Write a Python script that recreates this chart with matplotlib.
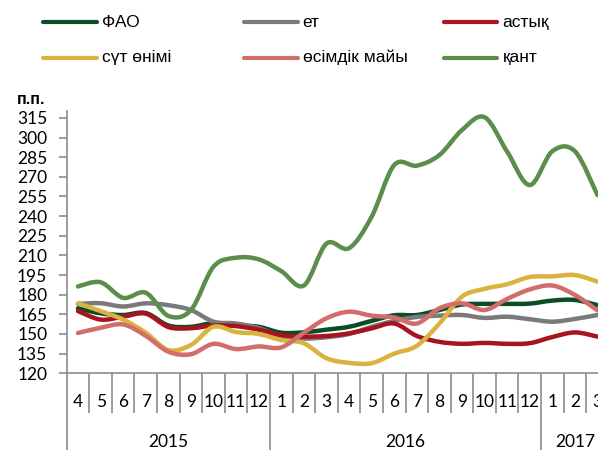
import matplotlib
matplotlib.use('Agg')
import matplotlib.pyplot as plt
import matplotlib.transforms as mtransforms
from matplotlib.path import Path
from matplotlib.patches import PathPatch
from matplotlib.lines import Line2D

# months Apr 2015 .. Mar 2017
months = [4, 5, 6, 7, 8, 9, 10, 11, 12,
          1, 2, 3, 4, 5, 6, 7, 8, 9, 10, 11, 12,
          1, 2, 3]
years = ['2015'] * 9 + ['2016'] * 12 + ['2017'] * 3

fao = [169.6, 165.8, 164.5, 166.0, 156.5, 155.5, 158.3, 156.5, 155.5,
       151.0, 151.3, 153.3, 155.5, 160.0, 164.3, 164.5, 168.3, 172.5, 173.0, 173.0, 173.2,
       175.5, 176.0, 172.0]
meat = [173.0, 173.5, 171.0, 173.4, 172.0, 168.3, 159.4, 158.0, 154.5,
        148.0, 146.5, 147.5, 150.0, 155.5, 160.0, 163.0, 164.0, 164.5, 162.3, 163.2, 161.3,
        159.4, 161.5, 164.5]
cereals = [167.5, 161.0, 163.2, 165.5, 155.3, 154.4, 156.5, 156.0, 153.3,
           149.2, 148.0, 148.5, 150.5, 154.3, 158.0, 148.5, 144.0, 142.5, 143.2, 142.5, 143.0,
           147.7, 151.2, 148.0]
dairy = [173.4, 167.5, 161.0, 151.0, 137.8, 141.6, 155.5, 151.5, 150.0,
         145.4, 142.9, 131.5, 128.0, 127.7, 135.0, 141.0, 158.0, 178.5, 184.5, 188.0, 193.5,
         194.0, 195.0, 190.0]
oils = [150.8, 154.7, 157.3, 148.6, 136.5, 134.6, 142.5, 138.5, 140.5,
        139.8, 151.0, 162.0, 167.0, 164.0, 162.6, 158.0, 169.6, 173.4, 168.3, 176.8, 184.0,
        187.0, 179.8, 168.0]
sugar = [186.3, 189.5, 177.6, 181.5, 163.8, 168.3, 201.4, 208.2, 207.0,
         198.0, 187.0, 219.0, 215.5, 239.5, 279.0, 278.5, 286.6, 305.7, 315.5, 289.2, 263.7,
         289.5, 289.5, 256.0]

names = ['ФАО', 'ет', 'астық', 'сүт өнімі', 'өсімдік майы', 'қант']
series = [fao, meat, cereals, dairy, oils, sugar]
colors = ['#0b4d25', '#7a7a7a', '#a8141e', '#dbb23e', '#d26d6b', '#5b8e4a']

yticks = list(range(120, 316, 15))

tick_font = ['Lato', 'DejaVu Sans']
legend_font = ['Liberation Sans', 'DejaVu Sans']
axis_grey = '#8c8c8c'


def smooth_path(xs, ys):
    # cubic bezier through the points (like excel smoothed line)
    verts = [(xs[0], ys[0])]
    codes = [Path.MOVETO]
    n = len(xs)
    for i in range(n - 1):
        x0, y0 = (xs[i - 1], ys[i - 1]) if i > 0 else (xs[i], ys[i])
        x3, y3 = (xs[i + 2], ys[i + 2]) if i + 2 < n else (xs[i + 1], ys[i + 1])
        c1 = (xs[i] + (xs[i + 1] - x0) / 6.0, ys[i] + (ys[i + 1] - y0) / 6.0)
        c2 = (xs[i + 1] - (x3 - xs[i]) / 6.0, ys[i + 1] - (y3 - ys[i]) / 6.0)
        verts += [c1, c2, (xs[i + 1], ys[i + 1])]
        codes += [Path.CURVE4] * 3
    return Path(verts, codes)


fig = plt.figure(figsize=(5.98, 4.5), dpi=100)
ax = fig.add_axes([66.7 / 598, 76.7 / 450, 542.1 / 598, 262 / 450])

xs = list(range(len(months)))
for i, (vals, c) in enumerate(zip(series, colors)):
    ax.add_patch(PathPatch(smooth_path(xs, vals), fill=False, edgecolor=c, lw=3.2,
                           capstyle='round', joinstyle='round', zorder=3 + i))

ax.set_xlim(-0.5, len(months) - 0.5)
ax.set_ylim(120, 320)
ax.set_yticks(yticks)
ax.set_yticklabels([str(v) for v in yticks], fontsize=12.5, family=tick_font, color='black')
ax.tick_params(axis='y', length=6, width=1.2, color=axis_grey, pad=8)

for s in ['top', 'right']:
    ax.spines[s].set_visible(False)
for s in ['left', 'bottom']:
    ax.spines[s].set_color(axis_grey)
    ax.spines[s].set_linewidth(1.2)

# x axis: month boundaries (minor), year boundaries (major)
bounds = [i - 0.5 for i in range(len(months) + 1)]
year_starts = [i for i in range(len(years)) if i == 0 or years[i] != years[i - 1]]
ax.set_xticks([b - 0.5 for b in year_starts])
ax.set_xticks(bounds, minor=True)
ax.tick_params(axis='x', which='major', length=60, width=1.2, color=axis_grey, labelbottom=False)
ax.tick_params(axis='x', which='minor', length=29, width=1.2, color=axis_grey, labelbottom=False)

trans = mtransforms.blended_transform_factory(ax.transData, ax.transAxes)
month_tr = mtransforms.offset_copy(trans, fig=fig, y=-28.7 * 0.72, units='points')
for i, m in enumerate(months):
    ax.text(i, 0, str(m), transform=month_tr, ha='center', va='center',
            fontsize=12.5, family=tick_font, clip_on=False)

year_tr = mtransforms.offset_copy(trans, fig=fig, y=-68.7 * 0.72, units='points')
for k, s in enumerate(year_starts):
    e = year_starts[k + 1] if k + 1 < len(year_starts) else len(years)
    ax.text((s + e - 1) / 2.0, 0, years[s], transform=year_tr, ha='center', va='center',
            fontsize=12.5, family=tick_font, clip_on=False)

fig.text(45 / 598, 1 - 100 / 450, 'п.п.', ha='right', va='center', fontsize=11.5,
         fontweight='bold', family=legend_font)

# legend, two rows of three
col_x = [43.3, 244, 444]
row_y = [22.3, 57.7]
for i, (name, c) in enumerate(zip(names, colors)):
    r, k = divmod(i, 3)
    x0 = col_x[k] / 598
    y0 = 1 - row_y[r] / 450
    fig.add_artist(Line2D([x0, x0 + 53.5 / 598], [y0, y0], color=c, lw=3.0,
                          solid_capstyle='round', transform=fig.transFigure))
    fig.text(x0 + 58.5 / 598, y0, name, ha='left', va='center', fontsize=12.5,
             family=legend_font)

fig.savefig('out.png', dpi=100)
